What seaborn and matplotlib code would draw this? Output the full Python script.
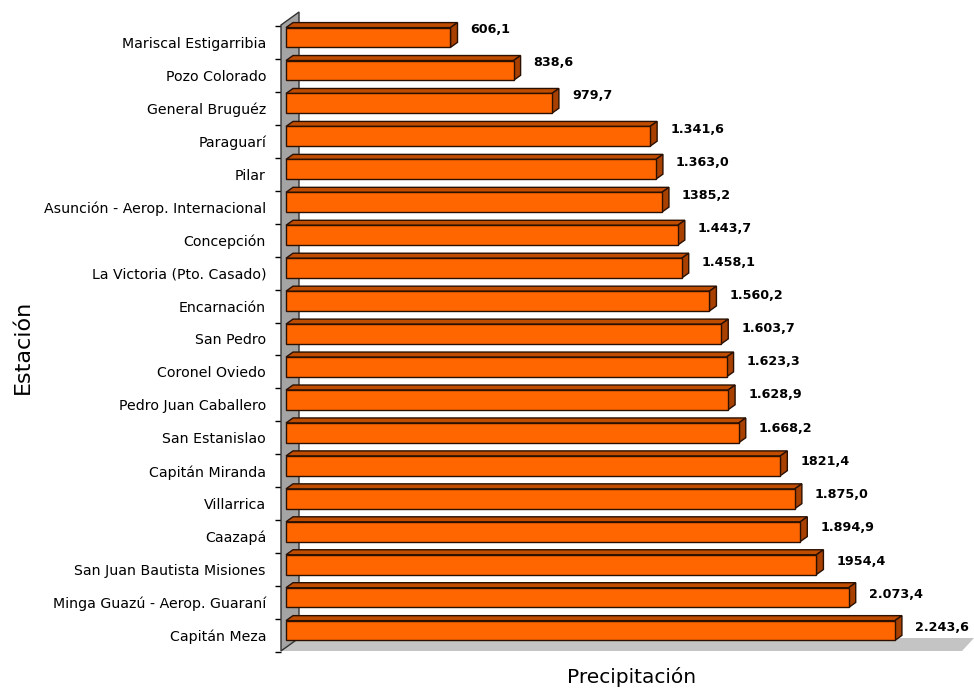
import matplotlib
matplotlib.use("Agg")
import matplotlib.pyplot as plt
import seaborn as sns
import pandas as pd
import numpy as np
from matplotlib.patches import Polygon, Rectangle
from matplotlib.ticker import FixedLocator

estaciones = [
    "Mariscal Estigarribia", "Pozo Colorado", "General Bruguéz", "Paraguarí", "Pilar",
    "Asunción - Aerop. Internacional", "Concepción", "La Victoria (Pto. Casado)",
    "Encarnación", "San Pedro", "Coronel Oviedo", "Pedro Juan Caballero",
    "San Estanislao", "Capitán Miranda", "Villarrica", "Caazapá",
    "San Juan Bautista Misiones", "Minga Guazú - Aerop. Guaraní", "Capitán Meza",
]
precipitacion = [606.1, 838.6, 979.7, 1341.6, 1363.0, 1385.2, 1443.7, 1458.1, 1560.2,
                 1603.7, 1623.3, 1628.9, 1668.2, 1821.4, 1875.0, 1894.9, 1954.4,
                 2073.4, 2243.6]
etiquetas = ["606,1", "838,6", "979,7", "1.341,6", "1.363,0", "1385,2", "1.443,7",
             "1.458,1", "1.560,2", "1.603,7", "1.623,3", "1.628,9", "1.668,2",
             "1821,4", "1.875,0", "1.894,9", "1954,4", "2.073,4", "2.243,6"]

sns.set_theme(style="white")
plt.rcParams['font.family'] = ['DejaVu Sans']

W, H = 974, 690
fig = plt.figure(figsize=(W / 100, H / 100), dpi=100)
fig.patch.set_facecolor("white")

# axes pixel extents (include the 3D wall and floor)
AX_L, AX_R, AX_T, AX_B = 281, 974, 12, 652
ax = fig.add_axes([AX_L / W, 1 - AX_B / H, (AX_R - AX_L) / W, (AX_B - AX_T) / H])
ax.set_facecolor("none")

PX_PER_UNIT = 0.2714
X0 = 286
BAND = (652 - 26) / 19.0


def fx(px):
    return (px - AX_L) / (AX_R - AX_L)


def fy(py):
    return (AX_B - py) / (AX_B - AX_T)


# wall and floor
wall = Polygon([(fx(281), fy(651)), (fx(281), fy(25)), (fx(299), fy(12)), (fx(299), fy(638))],
               closed=True, transform=ax.transAxes, facecolor="#A4A4A4",
               edgecolor="#333333", linewidth=1, zorder=1, clip_on=False)
floor = Polygon([(fx(281), fy(651)), (fx(962), fy(651)), (fx(974), fy(638)), (fx(299), fy(638))],
                closed=True, transform=ax.transAxes, facecolor="#C4C4C4",
                edgecolor="none", zorder=0.9, clip_on=False)
ax.add_patch(floor)
ax.add_patch(wall)

df = pd.DataFrame({"Estación": estaciones, "Precipitación": precipitacion})
sns.barplot(data=df, y="Estación", x="Precipitación", orient="h", color="#FF6600",
            saturation=1, width=0.6, edgecolor="#2A1000", linewidth=1.0, ax=ax, zorder=3)

xmin = -(X0 - AX_L) / PX_PER_UNIT
xmax = (AX_R - X0) / PX_PER_UNIT
ytop = -0.5 - (26 - AX_T) / BAND
ax.set_xlim(xmin, xmax)
ax.set_ylim(18.5, ytop)

SHIFT = 5 / BAND
DX = 7 / PX_PER_UNIT
DY = 5 / BAND
n = len(etiquetas)

bars = [p for p in ax.patches if isinstance(p, Rectangle)]
for i, (p, lab) in enumerate(zip(bars, etiquetas)):
    p.set_y(p.get_y() - SHIFT)
    x0 = p.get_x()
    x1 = x0 + p.get_width()
    yt = p.get_y()
    yb = yt + p.get_height()
    top = Polygon([(x0, yt), (x1, yt), (x1 + DX, yt - DY), (x0 + DX, yt - DY)], closed=True,
                  facecolor="#C04C00", edgecolor="#2A1000", linewidth=1.0, zorder=2.9)
    side = Polygon([(x1, yt), (x1 + DX, yt - DY), (x1 + DX, yb - DY), (x1, yb)], closed=True,
                   facecolor="#A84000", edgecolor="#2A1000", linewidth=1.0, zorder=2.9)
    ax.add_patch(top)
    ax.add_patch(side)
    ycat = (yt + yb) / 2 + SHIFT
    off_px = 13 - 5 * i / (n - 1)
    ax.text(x1 + DX + 13 / PX_PER_UNIT, ycat - off_px / BAND, lab, fontsize=9.2,
            fontweight="bold", color="black", va="center", ha="left", zorder=5)

for s in ax.spines.values():
    s.set_visible(False)
ax.set_xticks([])
ax.yaxis.set_minor_locator(FixedLocator(np.arange(-0.5, 19, 1.0)))
ax.tick_params(axis="y", which="major", length=0, pad=10.8, labelsize=10.2, labelcolor="black")
ax.tick_params(axis="y", which="minor", left=True, length=4.3, width=1, color="black")

ax.set_xlabel("Precipitación", fontsize=14.5, color="black")
ax.set_ylabel("Estación", fontsize=16, color="black")
ax.xaxis.set_label_coords(fx(632), fy(667))
ax.yaxis.set_label_coords(fx(33), fy(347))

fig.savefig("out.png", dpi=100, facecolor="white")
